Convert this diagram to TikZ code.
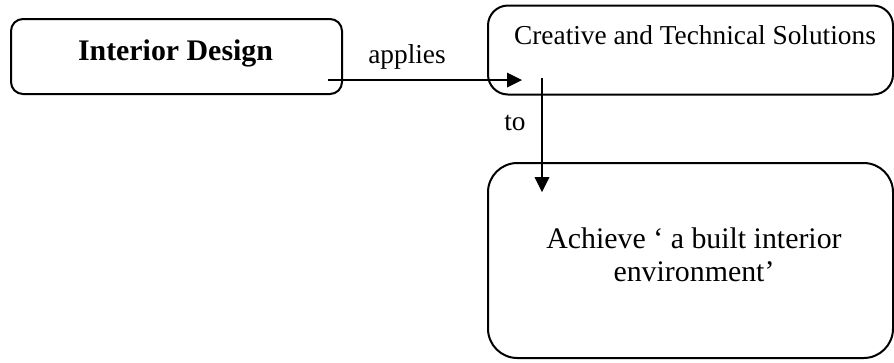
\documentclass[tikz,border=0pt]{standalone}
\usepackage{fontspec}
\setmainfont{Liberation Serif}

\tikzset{every picture/.style={line width=1.5pt}}
\tikzset{
  roundbox/.style={draw, rounded corners=#1, inner sep=0pt},
  smalltext/.style={font=\fontsize{20.5}{24}\selectfont, inner sep=0pt, anchor=base},
  bigtext/.style={font=\fontsize{22.4}{24.75}\selectfont, inner sep=0pt}
}

\begin{document}
\begin{tikzpicture}[x=0.75pt,y=0.75pt,yscale=-1,xscale=1]
		\useasboundingbox (0,0) rectangle (894,362);

		%Rounded box: left
		\node [roundbox=9pt, minimum width=248.25pt, minimum height=56.25pt] (design) at (176.5,56.5) {};
		%Rounded box: top right
		\node [roundbox=15pt, minimum width=303.75pt, minimum height=66.75pt] (solutions) at (690.5,50) {};
		%Rounded box: bottom right
		\node [roundbox=22pt, minimum width=303.75pt, minimum height=146.25pt] (environment) at (690.5,260.5) {};

		%Connector ends
		\coordinate (appliesFrom) at (328,80);
		\coordinate (appliesTo) at (522,80);
		\coordinate (toFrom) at (542,78);
		\coordinate (toTo) at (542,192);

		%Straight Lines: applies
		\draw [shorten >=9pt] (appliesFrom) -- (appliesTo) ;
		\draw [shift={(appliesTo)}, rotate = 180] [fill=black][line width=0.08] [draw opacity=0] (15,-7.5) -- (0,0) -- (15,7.5) -- cycle ;
		%Straight Lines: to
		\draw [shorten >=9pt] (toFrom) -- (toTo) ;
		\draw [shift={(toTo)}, rotate = 270] [fill=black][line width=0.08] [draw opacity=0] (15,-7.5) -- (0,0) -- (15,7.5) -- cycle ;

		% Text Node
		\node [smalltext, font=\fontsize{22.4}{26}\selectfont\bfseries] (designText) at (175.5,60) {Interior Design};
		% Text Node
		\node [smalltext] (appliesText) at (407,63) {applies};
		% Text Node
		\node [smalltext] (solutionsText) at (695,44) {Creative and Technical Solutions};
		% Text Node
		\node [smalltext] (toText) at (515,130) {to};
		% Text Node
		\node [bigtext, align=center] (environmentText) at (694,255) {Achieve ‘ a built interior\\environment’};

\end{tikzpicture}
\end{document}
